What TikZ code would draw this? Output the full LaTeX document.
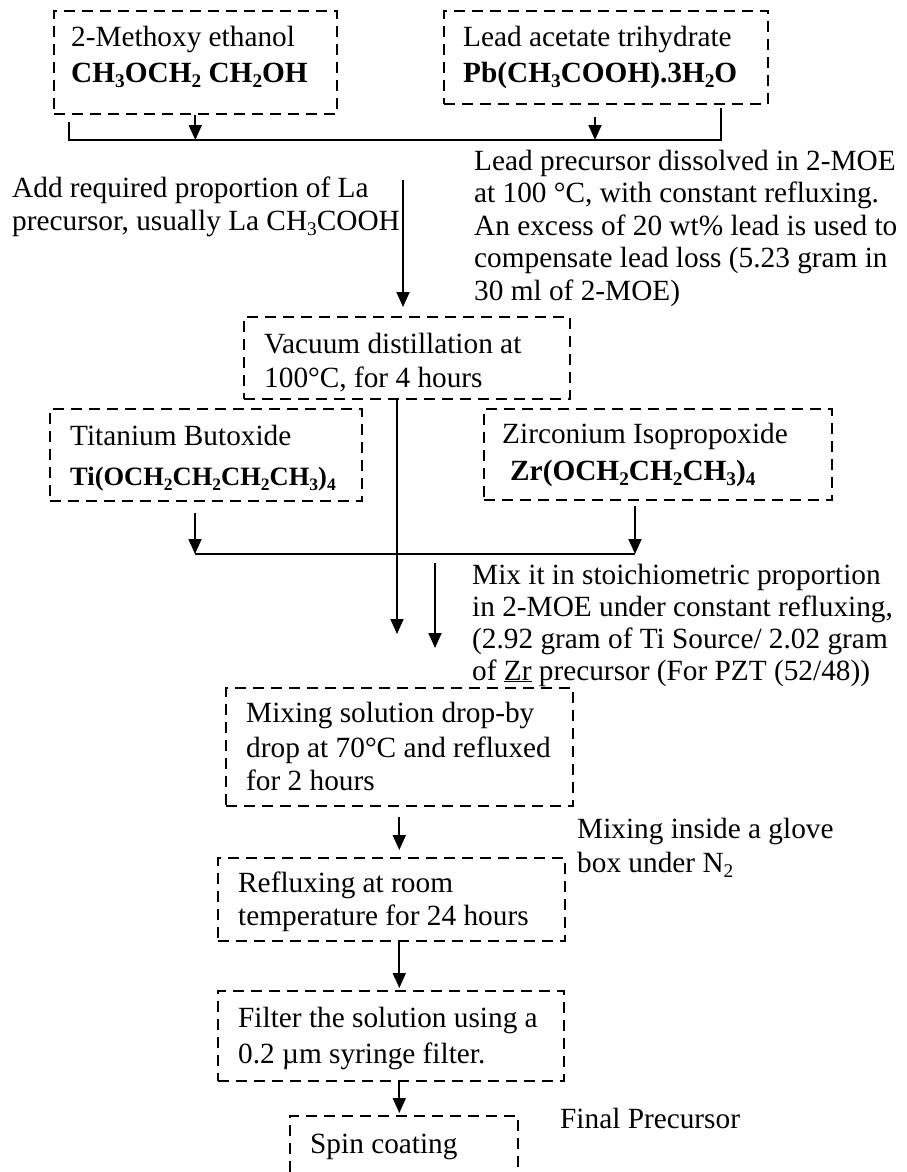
\documentclass[tikz,border=0pt]{standalone}
\usepackage{fontspec}
\usepackage{graphicx}
\setmainfont{Liberation Serif}
\usetikzlibrary{arrows.meta}
\newcommand\chs[1]{\raisebox{-0.2em}{\scalebox{0.66}{#1}}}
\begin{document}
\begin{tikzpicture}[x=1pt,y=-1pt,
  box/.style={draw, line width=1.6pt, dash pattern=on 11pt off 7pt, anchor=north west, inner sep=0pt},
  txt/.style={anchor=base west, inner sep=0pt, font=\fontsize{29.3}{33}\selectfont},
  smalltxt/.style={anchor=base west, inner sep=0pt, font=\fontsize{26.5}{30}\selectfont\bfseries},
  arr/.style={line width=1.8pt, -{Triangle[length=15pt,width=13pt]}},
  ln/.style={line width=1.6pt}]
\useasboundingbox (0,0) rectangle (906,1172);
\clip (0,0) rectangle (906,1172);
\fill[white] (0,0) rectangle (906,1172);

% boxes
\node[box, minimum width=283pt, minimum height=103pt] (meo) at (53,10) {};
\node[box, minimum width=324pt, minimum height=93pt] (pbac) at (443,10) {};
\node[box, minimum width=326pt, minimum height=82pt] (vac) at (243,316) {};
\node[box, minimum width=312pt, minimum height=92pt] (ti) at (49,408) {};
\node[box, minimum width=348pt, minimum height=91pt] (zr) at (483,408) {};
\node[box, minimum width=347pt, minimum height=118pt] (mixb) at (225,687) {};
\node[box, minimum width=347pt, minimum height=83pt] (refl) at (217,857) {};
\node[box, minimum width=346pt, minimum height=90pt] (filt) at (217,990) {};
\node[box, minimum width=228pt, minimum height=75pt] (spin) at (289,1115) {};

% texts
\node[txt] (t1a) at (71,47) {2-Methoxy ethanol};
\node[txt] (t1b) at (71,82) {\bfseries CH\chs{3}OCH\chs{2} CH\chs{2}OH};
\node[txt] (t2a) at (463,47) {Lead acetate trihydrate};
\node[txt] (t2b) at (463,82) {\bfseries Pb(CH\chs{3}COOH).3H\chs{2}O};

\node[txt] (t3a) at (474,170) {Lead precursor dissolved in 2-MOE};
\node[txt] (t3b) at (474,202) {at 100 °C, with constant refluxing.};
\node[txt] (t3c) at (474,235) {An excess of 20 wt\% lead is used to};
\node[txt] (t3d) at (474,267) {compensate lead loss (5.23 gram in};
\node[txt] (t3e) at (474,300) {30 ml of 2-MOE)};

\node[txt] (t4a) at (12,197) {Add required proportion of La};
\node[txt] (t4b) at (12,230) {precursor, usually La CH\chs{3}COOH};

\node[txt] (t5a) at (264,353) {Vacuum distillation at};
\node[txt] (t5b) at (264,387) {100°C, for 4 hours};

\node[txt] (t6a) at (70,445) {Titanium Butoxide};
\node[smalltxt] (t6b) at (70,485) {Ti(OCH\chs{2}CH\chs{2}CH\chs{2}CH\chs{3})\chs{4}};
\node[txt] (t7a) at (502,443) {Zirconium Isopropoxide};
\node[txt] (t7b) at (510,480) {\bfseries Zr(OCH\chs{2}CH\chs{2}CH\chs{3})\chs{4}};

\node[txt] (t8a) at (472,584) {Mix it in stoichiometric proportion};
\node[txt] (t8b) at (472,616) {in 2-MOE under constant refluxing,};
\node[txt] (t8c) at (472,648) {(2.92 gram of Ti Source/ 2.02 gram};
\node[txt] (t8d) at (472,680) {of \underline{Zr} precursor (For PZT (52/48))};

\node[txt] (t9a) at (246,722) {Mixing solution drop-by};
\node[txt] (t9b) at (246,757) {drop at 70°C and refluxed};
\node[txt] (t9c) at (246,790) {for 2 hours};

\node[txt] (t10a) at (577,838) {Mixing inside a glove};
\node[txt] (t10b) at (577,872) {box under N\chs{2}};

\node[txt] (t11a) at (238,892) {Refluxing at room};
\node[txt] (t11b) at (238,925) {temperature for 24 hours};

\node[txt] (t12a) at (238,1027) {Filter the solution using a};
\node[txt] (t12b) at (238,1063) {0.2 µm syringe filter.};

\node[txt] (t13) at (310,1153) {Spin coating};
\node[txt] (t14) at (560,1128) {Final Precursor};

% top junction
\coordinate (jlt) at (69,122);
\coordinate (jl) at (69,140);
\coordinate (jr) at (721,140);
\coordinate (jrt) at (721,108);
\coordinate (a2s) at (595,117);
\coordinate (a2) at (595,140);
\draw[ln] (jlt) -- (jl) -- (jr) -- (jrt);
\draw[arr] (meo.south) -- (meo.south |- jl);
\draw[arr] (a2s) -- (a2);

% La arrow
\coordinate (las) at (403,180);
\draw[arr, shorten >=9pt] (las) -- (las |- vac.north);

% vacuum down
\coordinate (v1) at (397,634);
\draw[arr] (vac.south -| v1) -- (v1);

% Ti / Zr merge
\coordinate (hl) at (195,554);
\coordinate (hr) at (635,554);
\coordinate (tis) at (195,513);
\coordinate (zrs) at (635,506);
\draw[ln] (hl) -- (hr);
\draw[arr] (tis) -- (hl);
\draw[arr] (zrs) -- (hr);
\coordinate (m1) at (435,563);
\coordinate (m2) at (435,648);
\draw[arr] (m1) -- (m2);

% lower chain
\draw[arr, shorten <=10pt, shorten >=7pt] (mixb.south) -- (mixb.south |- refl.north);
\draw[arr, shorten >=2pt] (refl.south -| mixb.south) -- (mixb.south |- filt.north);
\draw[arr, shorten >=2pt] (filt.south -| mixb.south) -- (mixb.south |- spin.north);
\end{tikzpicture}
\end{document}
